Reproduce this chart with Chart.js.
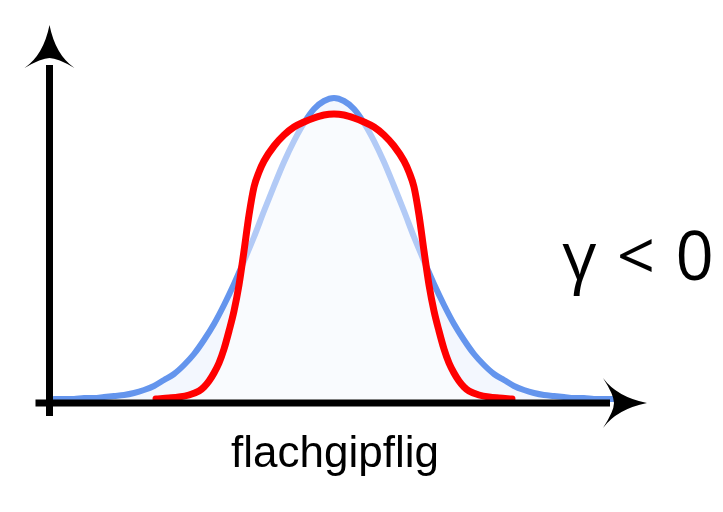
<!DOCTYPE html>
<html>
<head>
<meta charset="utf-8">
<script src="https://cdn.jsdelivr.net/npm/chart.js@4/dist/chart.umd.min.js"></script>
<style>
  html, body { margin: 0; padding: 0; background: #ffffff; }
  #wrap { position: relative; width: 723px; height: 512px; overflow: hidden; }
  canvas { position: absolute; left: 0; top: 0; }
  .lbl { position: absolute; color: #000; white-space: nowrap; text-align: center; }
  #xlabel { left: 231px; width: 200px; top: 430px; font: 44px/44px "Liberation Sans", Arial, sans-serif; }
  #gamma { left: 538px; width: 200px; top: 221px; font: 67px/66px "Open Sans", sans-serif; word-spacing: 3px; }
</style>
</head>
<body>
<div id="wrap">
  <canvas id="c" width="723" height="512"></canvas>
  <div id="xlabel" class="lbl">flachgipflig</div>
  <div id="gamma" class="lbl">γ &lt; 0</div>
</div>
<script>
// Horizontal position (offset from the peak) and height of each curve
const normalX = [-280,-260,-250,-240,-230,-220,-210,-200,-190,-180,-170,-160,-150,-140,-130,-120,-110,-100,-90,-80,-70,-60,-50,-40,-30,-20,-10,0,
                 10,20,30,40,50,60,70,80,90,100,110,120,130,140,150,160,170,180,190,200,210,220,230,240,250,260,280];
const normalY = [0,0,1,1,2,3,4,6,9,13,19,25,34,45,59,75,94,115,138,162,188,213,237,258,276,290,298,301,
                 298,290,276,258,237,213,188,162,138,115,94,75,59,45,34,25,19,13,9,6,4,3,2,1,1,0,0];

const flatX = [-178,-165,-155,-145,-135,-130,-125,-120,-115,-110,-105,-100,-95,-90,-85,-80,-75,-70,-60,-50,-40,-30,-20,-10,0,
               10,20,30,40,50,60,70,75,80,85,90,95,100,105,110,115,120,125,130,135,145,155,165,178];
const flatY = [0,1,2,4,8,12,18,26,36,50,68,88,114,148,184,212,227,238,253,264,272,277,281,284,285,
               284,281,277,272,264,253,238,227,212,184,148,114,88,68,50,36,26,18,12,8,4,2,1,0];

const toPoints = (xs, ys) => xs.map((x, i) => ({ x: x, y: ys[i] }));

const axesPlugin = {
  id: 'arrowAxes',
  afterDatasetsDraw(chart) {
    const ctx = chart.ctx;
    const xs = chart.scales.x, ys = chart.scales.y;
    const ax = xs.left + 1.5;          // y-axis position
    const ay = ys.bottom + 4;          // x-axis position
    ctx.save();
    ctx.fillStyle = '#000';
    ctx.strokeStyle = '#000';
    ctx.lineCap = 'butt';
    ctx.lineWidth = 7;
    ctx.beginPath();
    ctx.moveTo(ax, ay + 13);
    ctx.lineTo(ax, ys.top + 40);
    ctx.stroke();
    ctx.beginPath();
    ctx.moveTo(ax - 14, ay);
    ctx.lineTo(xs.right - 35, ay);
    ctx.stroke();
    const ty = ys.top;
    ctx.beginPath();
    ctx.moveTo(ax, ty);
    ctx.quadraticCurveTo(ax - 6, ty + 30, ax - 25, ty + 43);
    ctx.quadraticCurveTo(ax - 8, ty + 33, ax, ty + 33);
    ctx.quadraticCurveTo(ax + 8, ty + 33, ax + 25, ty + 43);
    ctx.quadraticCurveTo(ax + 6, ty + 30, ax, ty);
    ctx.closePath();
    ctx.fill();
    const tx = xs.right + 2;
    ctx.beginPath();
    ctx.moveTo(tx, ay);
    ctx.quadraticCurveTo(tx - 30, ay - 6, tx - 44, ay - 25);
    ctx.quadraticCurveTo(tx - 33, ay - 8, tx - 33, ay);
    ctx.quadraticCurveTo(tx - 33, ay + 8, tx - 44, ay + 25);
    ctx.quadraticCurveTo(tx - 30, ay + 6, tx, ay);
    ctx.closePath();
    ctx.fill();
    ctx.restore();
  }
};

new Chart(document.getElementById('c'), {
  type: 'line',
  data: {
    datasets: [
      {
        label: 'flachgipflig',
        data: toPoints(flatX, flatY),
        borderColor: '#ff0000',
        borderWidth: 7,
        backgroundColor: 'rgba(255,255,255,0.5)',
        fill: 'origin',
        pointRadius: 0,
        cubicInterpolationMode: 'monotone',
        borderCapStyle: 'round',
        borderJoinStyle: 'round'
      },
      {
        label: 'normal',
        data: toPoints(normalX, normalY),
        borderColor: '#6495ed',
        borderWidth: 6,
        backgroundColor: 'rgba(100,149,237,0.08)',
        fill: 'origin',
        pointRadius: 0,
        cubicInterpolationMode: 'monotone',
        borderCapStyle: 'round',
        borderJoinStyle: 'round'
      }
    ]
  },
  options: {
    responsive: false,
    animation: false,
    devicePixelRatio: 1,
    layout: { padding: { left: 48, right: 78, top: 25, bottom: 113 } },
    scales: {
      x: { type: 'linear', min: -286, max: 311, display: false },
      y: { type: 'linear', min: 0, max: 374, display: false }
    },
    plugins: {
      legend: { display: false },
      tooltip: { enabled: false },
      title: { display: false },
      filler: { drawTime: 'beforeDatasetDraw' }
    },
    clip: false
  },
  plugins: [axesPlugin]
});
</script>
</body>
</html>
